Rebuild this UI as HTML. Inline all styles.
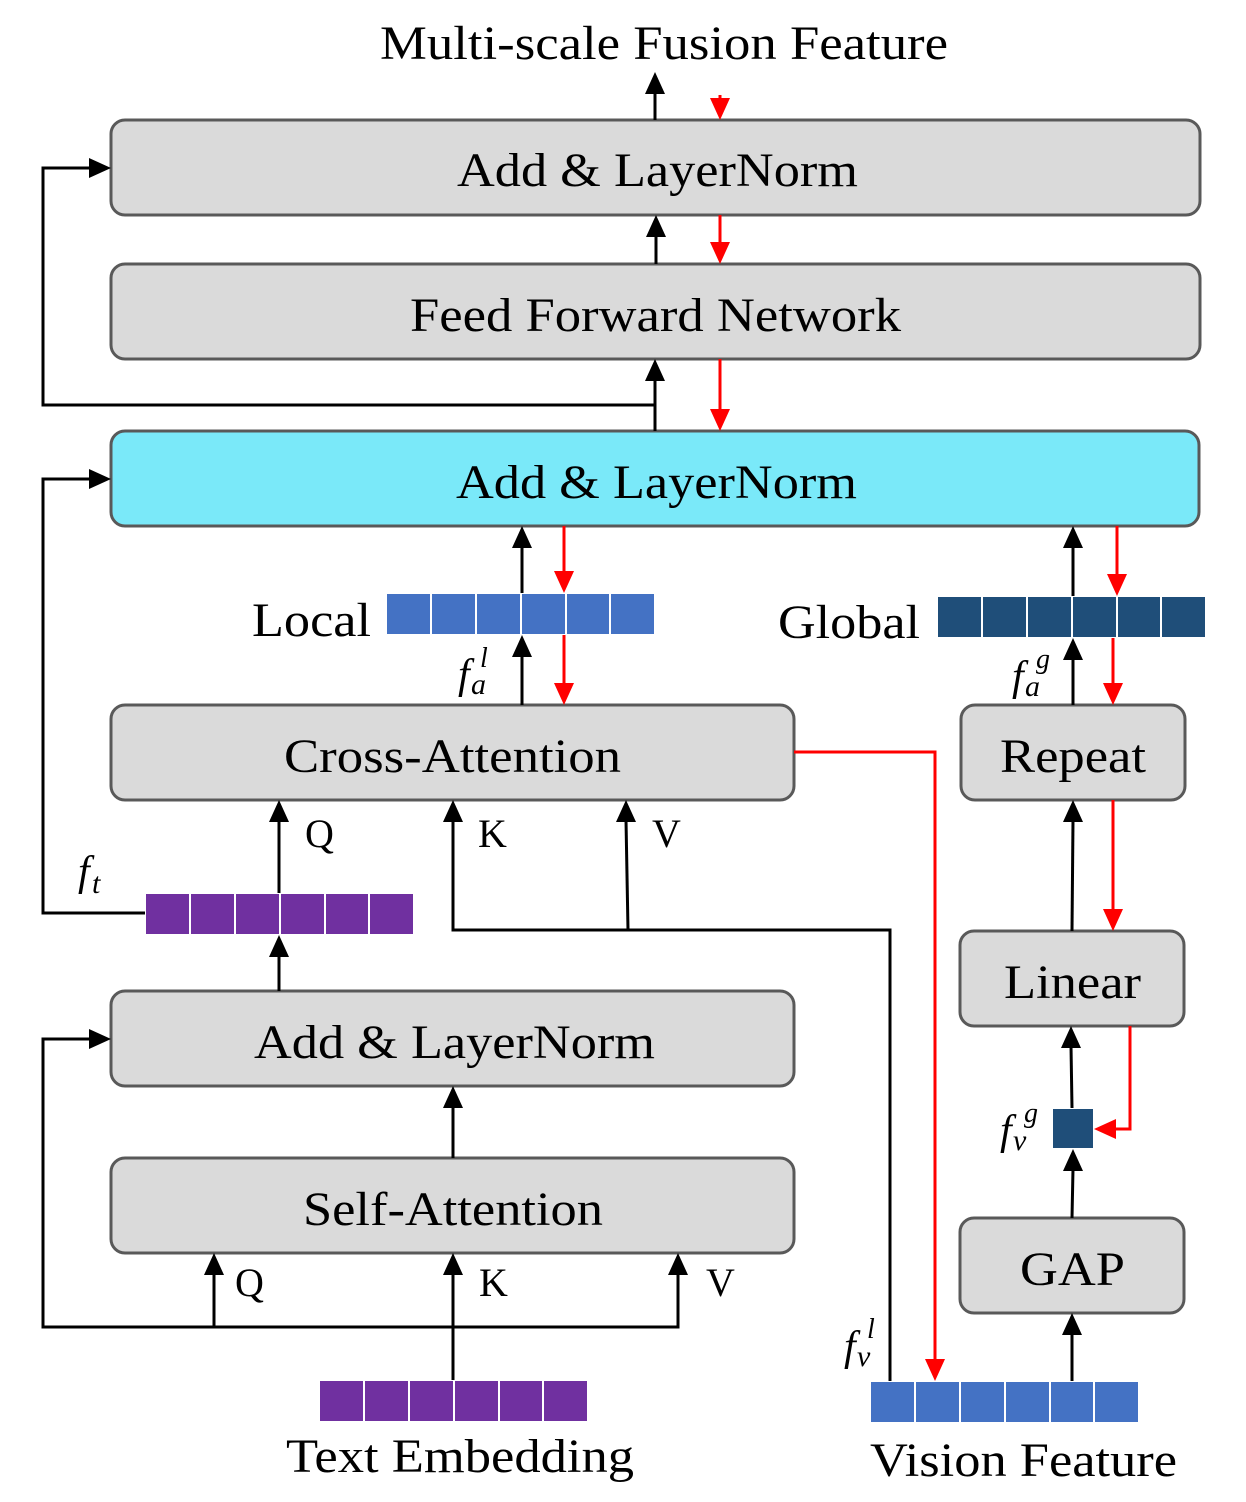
<!DOCTYPE html>
<html><head><meta charset="utf-8"><style>body{margin:0;background:#fff}svg{display:block}</style></head><body>
<svg width="1246" height="1502" viewBox="0 0 1246 1502" xmlns="http://www.w3.org/2000/svg" font-family="Liberation Serif, Times New Roman, serif">
<g stroke="#595959" stroke-width="3" fill="#dadada">
<rect x="111" y="120" width="1089" height="95" rx="14"/>
<rect x="111" y="264" width="1089" height="95" rx="14"/>
<rect x="111" y="431" width="1088" height="95" rx="14" fill="#7ae9f9"/>
<rect x="111" y="705" width="683" height="95" rx="14"/>
<rect x="961" y="705" width="224" height="95" rx="14"/>
<rect x="960" y="931" width="224" height="95" rx="14"/>
<rect x="111" y="991" width="683" height="95" rx="14"/>
<rect x="111" y="1158" width="683" height="95" rx="14"/>
<rect x="960" y="1218" width="224" height="95" rx="14"/>
</g>
<g font-size="48" lengthAdjust="spacingAndGlyphs" fill="#000">
<text x="380" y="59" textLength="568" lengthAdjust="spacingAndGlyphs">Multi-scale Fusion Feature</text>
<text x="457" y="186" textLength="401" lengthAdjust="spacingAndGlyphs">Add &amp; LayerNorm</text>
<text x="410" y="331" textLength="491" lengthAdjust="spacingAndGlyphs">Feed Forward Network</text>
<text x="456" y="498" textLength="401" lengthAdjust="spacingAndGlyphs">Add &amp; LayerNorm</text>
<text x="284" y="772" textLength="337" lengthAdjust="spacingAndGlyphs">Cross-Attention</text>
<text x="1000" y="772" textLength="146" lengthAdjust="spacingAndGlyphs">Repeat</text>
<text x="1004" y="998" textLength="137" lengthAdjust="spacingAndGlyphs">Linear</text>
<text x="254" y="1058" textLength="401" lengthAdjust="spacingAndGlyphs">Add &amp; LayerNorm</text>
<text x="303" y="1225" textLength="300" lengthAdjust="spacingAndGlyphs">Self-Attention</text>
<text x="1020" y="1285" textLength="105" lengthAdjust="spacingAndGlyphs">GAP</text>
<text x="286" y="1472" textLength="348" lengthAdjust="spacingAndGlyphs">Text Embedding</text>
<text x="870" y="1476" textLength="307" lengthAdjust="spacingAndGlyphs">Vision Feature</text>
<text x="252" y="636" textLength="119" lengthAdjust="spacingAndGlyphs">Local</text>
<text x="778" y="638" textLength="142" lengthAdjust="spacingAndGlyphs">Global</text>
</g>
<g font-size="40" fill="#000">
<text x="305" y="847">Q</text><text x="478" y="847">K</text><text x="652" y="847">V</text>
<text x="235" y="1296">Q</text><text x="479" y="1296">K</text><text x="706" y="1296">V</text>
</g>
<g font-style="italic" fill="#000">
<text x="78" y="885" font-size="42">f</text><text x="92" y="893" font-size="30">t</text>
<text x="458" y="688" font-size="42">f</text><text x="471" y="694" font-size="30">a</text><text x="480" y="667" font-size="28">l</text>
<text x="1012" y="690" font-size="42">f</text><text x="1025" y="696" font-size="30">a</text><text x="1036" y="668" font-size="28">g</text>
<text x="1000" y="1144" font-size="42">f</text><text x="1013" y="1150" font-size="30">v</text><text x="1024" y="1122" font-size="28">g</text>
<text x="844" y="1360" font-size="42">f</text><text x="857" y="1366" font-size="30">v</text><text x="867" y="1338" font-size="28">l</text>
</g>
<g stroke="#fff" stroke-width="2">
<g fill="#4472c4"><rect x="386" y="593" width="269" height="42"/><rect x="870" y="1381" width="269" height="42"/></g>
<g fill="#1f4e79"><rect x="937" y="596" width="269" height="42"/><rect x="1052" y="1108" width="42" height="41"/></g>
<g fill="#7030a0"><rect x="145" y="893" width="269" height="42"/><rect x="319" y="1380" width="269" height="42"/></g>
<path d="M431,593v42M476,593v42M521,593v42M566,593v42M610,593v42M982,596v42M1027,596v42M1072,596v42M1117,596v42M1161,596v42M190,893v42M235,893v42M280,893v42M325,893v42M369,893v42M364,1380v42M409,1380v42M454,1380v42M499,1380v42M543,1380v42M915,1381v42M960,1381v42M1005,1381v42M1050,1381v42M1094,1381v42"/>
</g>
<g stroke="#000" stroke-width="3" fill="none">
<path d="M655,120V90"/>
<path d="M656,264V235"/>
<path d="M655,431V379"/>
<path d="M655,405H43V168H91"/>
<path d="M145,913H43V479H91"/>
<path d="M214,1327H43V1039H91"/>
<path d="M214,1327H678V1273"/>
<path d="M214,1327V1273"/>
<path d="M453,1380V1273"/>
<path d="M453,1158V1106"/>
<path d="M279,991V955"/>
<path d="M279,893V820"/>
<path d="M890,1381V930H453V820"/>
<path d="M628,930L626,820"/>
<path d="M522,705V655"/>
<path d="M522,593V546"/>
<path d="M1073,705V658"/>
<path d="M1073,596V546"/>
<path d="M1072,931L1073,820"/>
<path d="M1072,1108L1071,1046"/>
<path d="M1072,1218L1073,1169"/>
<path d="M1072,1381V1333"/>
</g>
<g fill="#000">
<path d="M645,94h20l-10,-22z"/><path d="M646,237h20l-10,-22z"/><path d="M645,381h20l-10,-22z"/>
<path d="M89,158v20l22,-10z"/><path d="M89,469v20l22,-10z"/><path d="M89,1029v20l22,-10z"/>
<path d="M204,1275h20l-10,-22z"/><path d="M443,1275h20l-10,-22z"/><path d="M668,1275h20l-10,-22z"/>
<path d="M443,1108h20l-10,-22z"/><path d="M269,957h20l-10,-22z"/>
<path d="M269,822h20l-10,-22z"/><path d="M443,822h20l-10,-22z"/><path d="M616,822h20l-10,-22z"/>
<path d="M512,657h20l-10,-22z"/><path d="M512,548h20l-10,-22z"/>
<path d="M1063,660h20l-10,-22z"/><path d="M1063,548h20l-10,-22z"/>
<path d="M1063,822h20l-10,-22z"/><path d="M1061,1048h20l-10,-22z"/><path d="M1063,1171h20l-10,-22z"/><path d="M1062,1335h20l-10,-22z"/>
</g>
<g stroke="#f00" stroke-width="3" fill="none">
<path d="M720,95V108M720,215V252M720,359V419M564,526V581M564,635V693M1117,526V584M1113,638V693M1113,800V919M794,752H935V1369M1130,1026V1129H1106"/>
</g>
<g fill="#f00">
<path d="M710,98h20l-10,22z"/><path d="M710,242h20l-10,22z"/><path d="M710,409h20l-10,22z"/>
<path d="M554,571h20l-10,22z"/><path d="M554,683h20l-10,22z"/>
<path d="M1107,574h20l-10,22z"/><path d="M1103,683h20l-10,22z"/><path d="M1103,909h20l-10,22z"/>
<path d="M925,1359h20l-10,22z"/><path d="M1094,1129l22,-10v20z"/>
</g>
</svg>
</body></html>
